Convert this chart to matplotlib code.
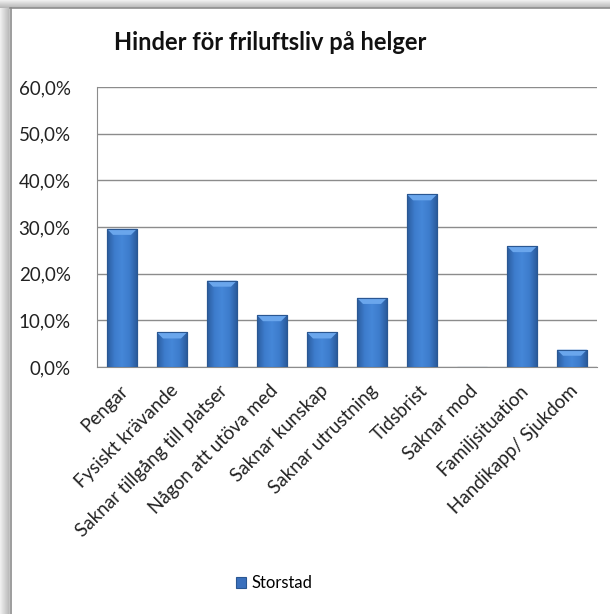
import numpy as np
import matplotlib.pyplot as plt
from matplotlib.patches import Polygon
from matplotlib.ticker import FuncFormatter, MultipleLocator
from matplotlib.colors import LinearSegmentedColormap
from matplotlib.transforms import ScaledTranslation

plt.rcParams['font.family'] = ['Lato', 'DejaVu Sans']

# data
kategorier = ['Pengar', 'Fysiskt krävande', 'Saknar tillgång till platser',
              'Någon att utöva med', 'Saknar kunskap', 'Saknar utrustning',
              'Tidsbrist', 'Saknar mod', 'Familjsituation', 'Handikapp/ Sjukdom']
storstad = [29.6, 7.4, 18.5, 11.1, 7.4, 14.8, 37.0, 0.0, 25.9, 3.7]
serie_namn = 'Storstad'
titel = 'Hinder för friluftsliv på helger'

W, H = 610, 614
fig = plt.figure(figsize=(W / 100, H / 100), dpi=100)

# background with the box shadow on the left and top
bg = fig.add_axes([0, 0, 1, 1], zorder=-5)
bg.axis('off')
shade = LinearSegmentedColormap.from_list('shade', ['#f2f2f2', '#b4b4b4'])
grad = np.linspace(0, 1, 64)
bg.imshow(grad[None, :], cmap=shade, extent=[0, 10, H, 0], aspect='auto')
bg.imshow(grad[:, None], cmap=shade, extent=[0, W + 5, 8, 0], aspect='auto')
bg.fill_between([10, W + 5], 8, H + 5, color='white')
bg.plot([10.5, 10.5], [8, H + 5], color='#8c8c8c', lw=1.2)
bg.plot([10, W + 5], [8, 8], color='#8c8c8c', lw=1.2)
bg.set_xlim(0, W)
bg.set_ylim(H, 0)

ax = fig.add_axes([97 / W, 1 - 367 / H, 500 / W, 280 / H])
x = np.arange(len(kategorier))
bars = ax.bar(x, storstad, width=0.6, color='#3a70bd', edgecolor='#2a5792',
              linewidth=0.8, zorder=3, label=serie_namn)

# horizontal shading and bevelled top on every bar
body = LinearSegmentedColormap.from_list(
    'body', ['#2b5c9e', '#3d7ccc', '#4587d8', '#3d7ccc', '#2b5c9e'])
px_y = 60 / 280
for rect in bars:
    h = rect.get_height()
    if h <= 0:
        continue
    x0, w = rect.get_x(), rect.get_width()
    im = ax.imshow(np.linspace(0, 1, 64)[None, :], cmap=body, aspect='auto',
                   extent=[x0, x0 + w, 0, h], zorder=3.5)
    im.set_clip_path(rect)
    bev_h = min(6 * px_y, h * 0.4)
    inset = 0.12
    top = Polygon([[x0, h], [x0 + w, h], [x0 + w - inset, h - bev_h],
                   [x0 + inset, h - bev_h]], closed=True,
                  facecolor='#6aa6ec', edgecolor='none', zorder=3.6)
    ax.add_patch(top)
    ax.plot([x0, x0 + w, x0 + w, x0, x0], [0, 0, h, h, 0], color='#2a5792',
            lw=0.8, zorder=3.7)

ax.set_xlim(-0.5, len(kategorier) - 0.5)
ax.set_ylim(0, 60)
ax.yaxis.set_major_locator(MultipleLocator(10))
ax.yaxis.set_major_formatter(FuncFormatter(lambda v, p: f'{v:.1f}%'.replace('.', ',')))
ax.grid(axis='y', color='#8c8c8c', lw=1, zorder=0)
for side in ['top', 'right']:
    ax.spines[side].set_visible(False)
ax.spines['left'].set_color('#8c8c8c')
ax.spines['bottom'].set_color('#8c8c8c')
ax.tick_params(axis='both', length=0, labelsize=13.5, labelcolor='#222222')
ax.tick_params(axis='y', pad=19)
ax.tick_params(axis='x', pad=15)
ax.set_xticks(x)
ax.set_xticklabels(kategorier, rotation=45, ha='right', va='center',
                   rotation_mode='anchor')
shift = ScaledTranslation(3 / 100, 0, fig.dpi_scale_trans)
for lab in ax.get_xticklabels():
    lab.set_transform(lab.get_transform() + shift)

fig.text(270 / W, 1 - 43 / H, titel, ha='center', va='center',
         fontsize=17, fontweight='bold', color='#111111')

ax.legend(loc='center', bbox_to_anchor=(274 / W, 1 - 583 / H),
          bbox_transform=fig.transFigure, frameon=False, fontsize=12,
          handlelength=0.65, handleheight=0.65, handletextpad=0.3)

fig.savefig('out.png', dpi=100)
